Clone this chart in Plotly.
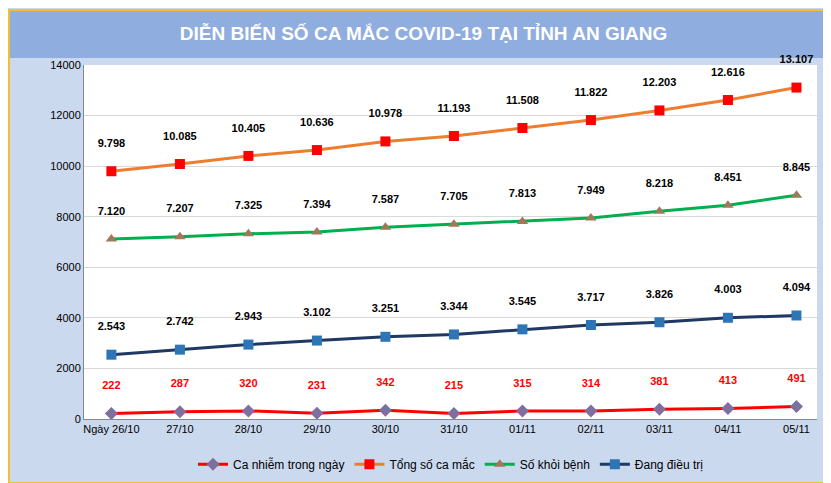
import plotly.graph_objects as go

days = ["Ngày 26/10", "27/10", "28/10", "29/10", "30/10", "31/10",
        "01/11", "02/11", "03/11", "04/11", "05/11"]
daily = [222, 287, 320, 231, 342, 215, 315, 314, 381, 413, 491]
total = [9798, 10085, 10405, 10636, 10978, 11193, 11508, 11822, 12203, 12616, 13107]
recovered = [7120, 7207, 7325, 7394, 7587, 7705, 7813, 7949, 8218, 8451, 8845]
treating = [2543, 2742, 2943, 3102, 3251, 3344, 3545, 3717, 3826, 4003, 4094]


def fmt(v):
    return f"{v:,}".replace(",", ".")


W, H = 831, 483
L, R, T, B = 76, 22, 57, 66
pw, ph = W - L - R, H - T - B


def px(x):
    return (x - L) / pw


def py(y):
    return (H - B - y) / ph


series = [
    ("Ca nhiễm trong ngày", daily, "#ff0000", "diamond", "#7f6f9f", "red"),
    ("Tổng số ca mắc", total, "#ed7d31", "square", "#ff0000", "black"),
    ("Số khỏi bệnh", recovered, "#00b050", "triangle-up", "#a0785a", "black"),
    ("Đang điều trị", treating, "#1f3864", "square", "#2e75b6", "black"),
]

fig = go.Figure()
for name, vals, lc, sym, mc, tc in series:
    fig.add_scatter(
        x=days, y=vals, name=name, mode="lines+markers+text",
        line=dict(color=lc, width=3),
        marker=dict(symbol=sym, size=10, color=mc),
        text=[fmt(v) for v in vals], textposition="top center",
        textfont=dict(color=tc, size=11, family="Liberation Sans"),
        cliponaxis=False,
    )

fig.update_traces(texttemplate="<b>%{text}</b><br> ")

fig.update_layout(
    width=W, height=H,
    margin=dict(l=L, r=R, t=T, b=B),
    paper_bgcolor="#cbd9ef",
    plot_bgcolor="white",
    font=dict(family="Liberation Sans", color="black", size=11),
    showlegend=True,
    legend=dict(orientation="h", x=0.5, xanchor="center", y=py(463), yanchor="middle",
                font=dict(size=12), bgcolor="rgba(0,0,0,0)"),
    title=dict(text="<b>DIỄN BIẾN SỐ CA MẮC COVID-19 TẠI TỈNH AN GIANG</b>",
               x=0.5, xanchor="center", y=1 - 25 / H, yanchor="middle",
               font=dict(color="white", size=19, family="Liberation Sans")),
    xaxis=dict(showgrid=False, showline=True, linecolor="#888", ticks="",
               tickfont=dict(size=11, color="black"),
               range=[-0.4, 10.3]),
    yaxis=dict(range=[0, 14000], dtick=2000, showgrid=True, gridcolor="#d9d9d9",
               showline=True, linecolor="#888", zeroline=False, tickformat="d",
               tickfont=dict(size=11)),
    shapes=[
        dict(type="rect", xref="paper", yref="paper",
             x0=px(0), x1=px(W), y0=py(0), y1=py(50),
             fillcolor="#8fadde", line_width=0, layer="below"),
        dict(type="rect", xref="paper", yref="paper",
             x0=px(1), x1=px(W - 1), y0=py(1), y1=py(H - 1),
             line=dict(color="#f0c030", width=2)),
    ],
)
fig.update_xaxes(tickangle=0)

fig.write_html("out.html")
